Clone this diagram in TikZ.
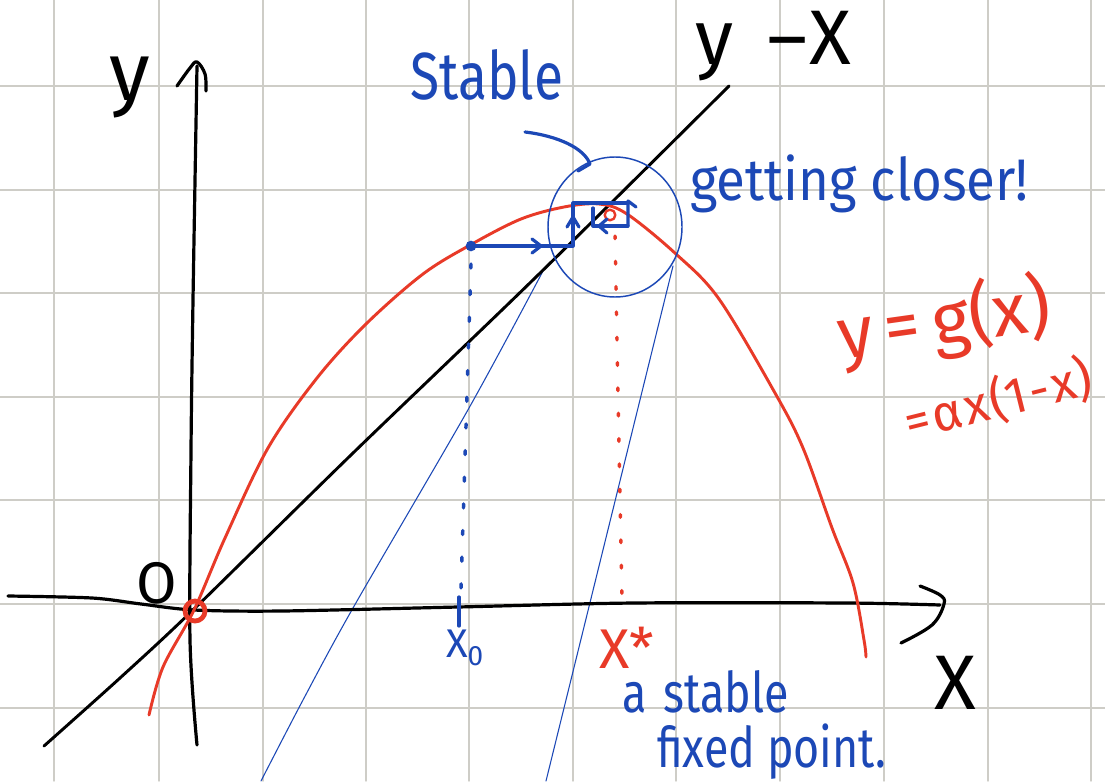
\documentclass[tikz,border=0pt]{standalone}
\usepackage{fontspec}
\setmainfont{Fira Sans}
\definecolor{inkred}{RGB}{232,58,40}
\definecolor{inkblue}{RGB}{28,72,182}
\definecolor{gridgray}{RGB}{206,205,199}
\newcommand{\nar}[2]{\scalebox{#1}[1]{#2}}
\newcommand{\gp}{\hspace{2pt}}
\begin{document}
\begin{tikzpicture}[x=0.75pt,y=-0.75pt,line cap=round,line join=round]
\tikzset{
  gridline/.style={draw=gridgray,line width=1.1pt},
  axisline/.style={draw=black,line width=2.4pt},
  redcurve/.style={draw=inkred,line width=2.2pt},
  blueink/.style={draw=inkblue,line width=2.4pt},
  thinblue/.style={draw=inkblue,line width=0.8pt},
  hw/.style={inner sep=0pt,outer sep=0pt},
  fs/.style={font=\fontsize{#1}{#1}\selectfont},
}
\useasboundingbox (0,0) rectangle (1105,781);
\fill[white] (0,0) rectangle (1105,781);
% grid
\foreach \gx in {54,159,263,366,469,573,676,780,884,988,1091}
  \draw[gridline] (\gx,0) -- (\gx,781);
\foreach \gy in {86,190,293,397,500,604,708}
  \draw[gridline] (0,\gy) -- (1105,\gy);

% magnifier cone (thin blue)
\draw[thinblue] plot[smooth,tension=0.5] coordinates {(543,271) (469,408) (353,608) (303,700) (261,781)};
\draw[thinblue] (673,266) -- (546,781);

% y = x line
\draw[axisline,line width=2.2pt] plot[smooth,tension=0.5] coordinates {(44,746) (120,678) (193,610) (352,454) (536,277) (729,86)};

% axes
\draw[axisline] plot[smooth,tension=0.5] coordinates {(197,745) (190,640) (191,450) (193,300) (197,66)};
\draw[axisline] plot[smooth,tension=0.6] coordinates {(177,86) (190,68) (197,62) (205,74) (206,91)};
\draw[axisline] plot[smooth,tension=0.5] coordinates {(8,596) (92,598) (141,604) (194,610) (282,611) (458,607) (634,603) (846,603) (940,605)};
\draw[axisline] plot[smooth,tension=0.6] coordinates {(920,586) (940,595) (944,604) (932,625) (901,643)};

% red parabola y = g(x)
\draw[redcurve] plot[smooth,tension=0.55] coordinates {(149,715) (163,667) (194,610) (225,538) (268,448) (317,378) (366,324) (423,274) (472,244) (521,219) (564,207) (599,204) (627,214) (676,254) (719,299) (775,393) (803,448) (832,528) (853,583) (864,640) (866,657)};

% red dotted line at x*
\draw[draw=inkred,line width=2.6pt,dash pattern=on 2pt off 17pt] (615,236) -- (622,600);

% blue dotted line at x0
\draw[draw=inkblue,line width=2.6pt,dash pattern=on 3pt off 17pt] (471,264) -- (461,588);
\draw[blueink] (459,597) -- (459,626);

% nodes: origin, x0, fixed point
\node[circle,draw=inkred,line width=3.6pt,minimum size=15pt,inner sep=0pt] (orig) at (195,611) {};
\node[circle,fill=inkblue,minimum size=8pt,inner sep=0pt] (x0) at (471,246) {};
\node[circle,draw=inkred,line width=1.8pt,minimum size=8pt,inner sep=0pt] (fp) at (610,215) {};

% cobweb staircase
\coordinate (c1) at (573,246);
\coordinate (c2) at (573,203);
\coordinate (c3) at (627,203);
\coordinate (c4) at (628,226);
\coordinate (c5) at (593,226);
\coordinate (c6) at (593,208);
\draw[blueink] (x0.center) -- (c1) -- (c2) -- (c3);
\draw[blueink] (c4) -- (c5) -- (c6);
\draw[blueink] (c4) -- (628,201) -- (636,207);
\draw[blueink] (532,239) -- (541,246) -- (532,253);
\draw[blueink] (567,227) -- (573,217) -- (579,227);
\draw[blueink] (607,219) -- (599,226) -- (607,233);

% magnifier circle
\draw[draw=inkblue,line width=1.1pt] (615,227) ellipse [x radius=67, y radius=70];

% curved pointer from "Stable"
\coordinate (p0) at (525,132);
\coordinate (p1) at (590,164);
\draw[blueink] (p0) .. controls (558,136) and (584,148) .. (p1) -- (578,171);

% labels
\node[hw,fs=62,anchor=center] (ylab) at (130,88) {y};
\node[hw,fs=44,anchor=center] (olab) at (157,583) {O};
\node[hw,fs=58,anchor=center] (yxlab) at (773,46) {y\hspace{26pt}–\hspace{1pt}X};
\node[hw,fs=58,anchor=center] (xlab) at (955,683) {X};

\node[hw,fs=50,anchor=base west,text=inkblue] (stable) at (410,100) {\nar{0.8}{Stable}};
\node[hw,fs=44,anchor=base west,text=inkblue] (closer) at (690,200) {\nar{0.9}{getting closer!}};

\node[hw,fs=54,anchor=center,text=inkred,rotate=8] (geq) at (944,322) {y\,=\,g(x)};
\node[hw,fs=38,anchor=center,text=inkred,rotate=14] (aeq) at (998,400) {=\gp α\gp x\gp (1\gp -\gp x)};

\node[hw,fs=30,anchor=center,text=inkblue] (x0lab) at (465,648) {X\textsubscript{0}};
\node[hw,fs=42,anchor=center,text=inkred] (xslab) at (627,648) {X*};

\node[hw,fs=42,anchor=base west,text=inkblue] (stab2) at (622,712) {\nar{0.8}{a\hspace{16pt}stable}};
\node[hw,fs=42,anchor=base west,text=inkblue] (fixp) at (657,767) {\nar{0.8}{fixed point.}};
\end{tikzpicture}
\end{document}
